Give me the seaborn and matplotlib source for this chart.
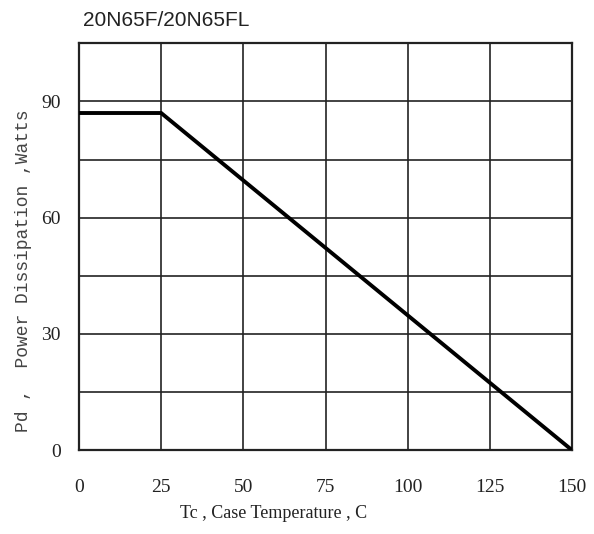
import matplotlib
matplotlib.use("Agg")
import matplotlib.pyplot as plt
import seaborn as sns
import pandas as pd

# Power derating curve
case_temp = [0, 25, 150]
power_diss = [87, 87, 0]
x_ticks = [0, 25, 50, 75, 100, 125, 150]
y_ticks = [0, 30, 60, 90]
title_text = "20N65F/20N65FL"

sns.set_theme(style="white")
plt.rcParams['font.family'] = ['Liberation Serif', 'DejaVu Serif']

df = pd.DataFrame({"Tc": case_temp, "Pd": power_diss})

fig = plt.figure(figsize=(5.94, 5.34), dpi=100)
ax = fig.add_axes([0.133, 0.157, 0.830, 0.762])

sns.lineplot(data=df, x="Tc", y="Pd", ax=ax, color="black", linewidth=2.8,
             solid_joinstyle="miter", zorder=3)

ax.set_xlim(0, 150)
ax.set_ylim(0, 105)
ax.set_xticks(x_ticks)
ax.set_yticks([i * 15 for i in range(8)])
ax.set_yticklabels([str(v) if v in y_ticks else "" for v in range(0, 106, 15)])
ax.grid(True, color="#222222", linewidth=1.2)
for s in ax.spines.values():
    s.set_color("#222222")
    s.set_linewidth(1.6)
ax.tick_params(axis="both", length=0, labelsize=14, colors="#222222")
ax.tick_params(axis="x", pad=21)
ax.tick_params(axis="y", pad=13)

ax.set_xlabel("Tc , Case Temperature , C", fontsize=13, color="#222222")
ax.xaxis.set_label_coords(0.395, -0.135)
ax.set_ylabel("Pd ,  Power Dissipation ,Watts", fontsize=13, color="#444444",
              family="Liberation Mono")
ax.yaxis.set_label_coords(-0.095, 0.44)

fig.text(0.14, 0.962, title_text, fontsize=15, color="#222222",
         family="Liberation Sans", ha="left", va="center")

fig.savefig("out.png", dpi=100, facecolor="white")
